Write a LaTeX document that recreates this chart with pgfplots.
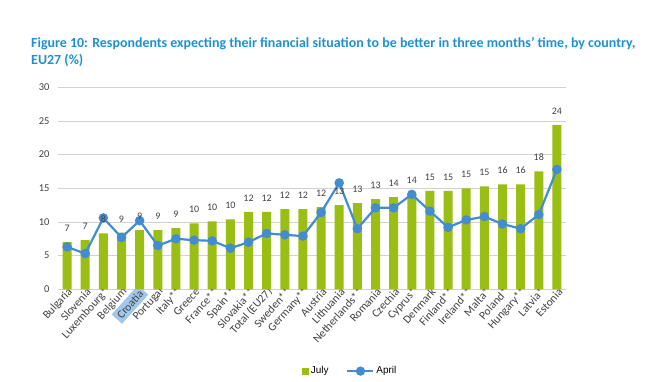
\documentclass[border=0pt]{standalone}
\usepackage{pgfplots}
\pgfplotsset{compat=1.18}
\usepackage{pgfplotstable}
\usepackage{fontspec}
\setmainfont{Carlito}
\newfontfamily\arialf{Liberation Sans}
\definecolor{julygreen}{RGB}{154,190,20}
\definecolor{aprilblue}{RGB}{68,140,210}
\definecolor{titleblue}{RGB}{30,144,210}
\definecolor{labgray}{RGB}{64,64,64}
\definecolor{hl}{RGB}{160,200,235}
\definecolor{gridgray}{RGB}{210,210,210}

\pgfplotstableread{
idx july april lab
0 7.0 6.3 7
1 7.3 5.3 7
2 8.3 10.6 8
3 8.4 7.7 9
4 8.8 10.2 9
5 8.8 6.5 9
6 9.1 7.5 9
7 9.8 7.3 10
8 10.1 7.2 10
9 10.4 6.1 10
10 11.5 7.0 12
11 11.5 8.3 12
12 11.9 8.1 12
13 11.9 7.9 12
14 12.2 11.4 12
15 12.5 15.8 13
16 12.8 9.0 13
17 13.4 12.1 13
18 13.7 12.1 14
19 14.1 14.1 14
20 14.6 11.6 15
21 14.6 9.2 15
22 15.0 10.3 15
23 15.3 10.8 15
24 15.6 9.7 16
25 15.6 9.0 16
26 17.5 11.1 18
27 24.4 17.8 24
}\data

\begin{document}
\begin{tikzpicture}
\path[use as bounding box] (0bp,0bp) rectangle (670bp,-382bp);
\node[anchor=base west, inner sep=0, text=titleblue, font=\bfseries\fontsize{14}{16}\selectfont] at (31bp,-47bp) {Figure 10: Respondents expecting their financial situation to be better in three months' time, by country,};
\node[anchor=base west, inner sep=0, text=titleblue, font=\bfseries\fontsize{14}{16}\selectfont] at (31bp,-64bp) {EU27 (\%)};
\begin{axis}[
  at={(58bp,-289.3bp)}, anchor=south west,
  scale only axis, width=508bp, height=202bp,
  xmin=-0.5, xmax=27.5, ymin=0, ymax=30,
  ytick={0,5,...,30},
  xtick={0,...,27},
  xticklabels={Bulgaria,Slovenia,Luxembourg*,Belgium,{\colorbox{hl}{Croatia}},Portugal,Italy**,Greece,France**,Spain**,Slovakia**,Total (EU27),Sweden**,Germany**,Austria,Lithuania,Netherlands**,Romania,Czechia,Cyprus*,Denmark,Finland**,Ireland**,Malta*,Poland*,Hungary**,Latvia*,Estonia},
  axis line style={draw=none},
  major tick length=0pt,
  ymajorgrids, grid style={draw=gridgray, line width=0.9bp},
  /pgf/number format/assume math mode=true,
  yticklabel style={font=\fontsize{10.5}{12}\selectfont, text=labgray, xshift=-5bp},
  xticklabel style={font=\fontsize{11.5}{12}\selectfont, text=labgray, rotate=48, anchor=east, inner sep=1bp, xshift=3bp, yshift=-3bp},
  legend style={at={(0.575,-0.405)}, anchor=center, draw=none, fill=none, font=\arialf\fontsize{10}{11}\selectfont, legend columns=2, /tikz/every even column/.append style={column sep=16bp}},
  legend cell align=left,
  clip=false,
]
\addplot[ybar, bar width=9bp, fill=julygreen, draw=none,
  legend image code/.code={\fill[julygreen] (0bp,-3.5bp) rectangle (7bp,3.5bp);}]
  table[x=idx, y=july] {\data};
\addlegendentry{July}
\addplot[aprilblue, line width=2.2bp, mark=*, mark size=3.6bp, mark options={fill=aprilblue, draw=aprilblue},
  legend image code/.code={\draw[aprilblue, line width=2bp] (0bp,0bp) -- (26bp,0bp); \fill[aprilblue] (13bp,0bp) circle (3.5bp);}]
  table[x=idx, y=april] {\data};
\addlegendentry{April}
\addplot[draw=none, mark=none, forget plot, nodes near coords, point meta=explicit symbolic,
  nodes near coords style={font=\fontsize{10}{11}\selectfont, text=labgray, anchor=south, yshift=7bp}]
  table[x=idx, y=july, meta=lab] {\data};
\end{axis}
\end{tikzpicture}
\end{document}
